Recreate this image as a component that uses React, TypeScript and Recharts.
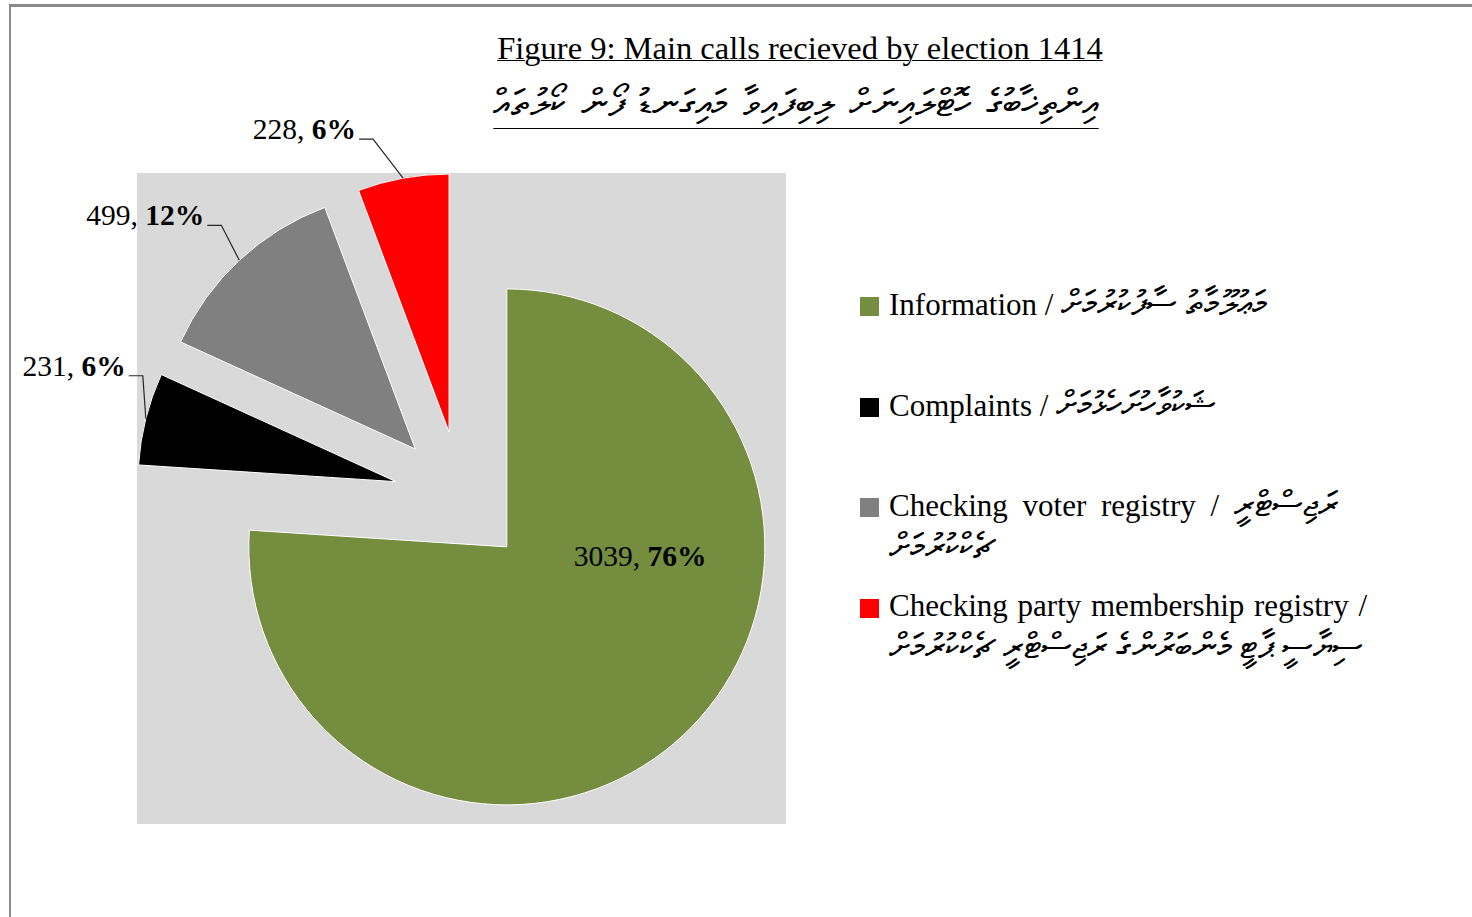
import { PieChart, Pie, Cell, Sector, Legend } from "recharts";

const categories = ["Information", "Complaints", "Checking voter registry", "Checking party membership registry"];
const categoriesDv = [
  "މަޢުލޫމާތު ސާފުކުރުމަށް",
  "ޝަކުވާހުށަހެޅުމަށް",
  "ރަޖިސްޓްރީ ޗެކްކުރުމަށް",
  "ސިޔާސީ ޕާޓީ މެންބަރުންގެ ރަޖިސްޓްރީ ޗެކްކުރުމަށް",
];
const calls = [3039, 231, 499, 228];
const colors = ["#748D3F", "#000000", "#808080", "#FF0000"];

const titleEn = "Figure 9: Main calls recieved by election 1414";
const titleDv = "އިންތިޚާބުގެ ހޮޓްލައިނަށް ލިބިފައިވާ މައިގަނޑު ފޯން ކޯލުތައް";

const serif = '"Liberation Serif", "Times New Roman", serif';
const RAD = Math.PI / 180;
const EXPLODE = 67;

// where each data label sits, relative to its (exploded) slice
const labelLayout = [
  { inside: true, dx: 67, dy: 19 },
  { inside: false, dx: -3, dy: -43 },
  { inside: false, dx: -18, dy: -35 },
  { inside: false, dx: -30, dy: -39 },
];
// word spacing of the legend rows (the source was justified text)
const legendWordSpacing = [0, 0, 7, 2];

const data = categories.map((name, i) => ({ name, dv: categoriesDv[i], value: calls[i] }));

function shift(cx: number, cy: number, midAngle: number, d: number) {
  return { x: cx + d * Math.cos(-midAngle * RAD), y: cy + d * Math.sin(-midAngle * RAD) };
}

function ExplodedSlice(props: any) {
  const c = shift(props.cx, props.cy, props.midAngle, EXPLODE);
  return <Sector {...props} cx={c.x} cy={c.y} />;
}

function SliceLabel(props: any) {
  const { cx, cy, midAngle, outerRadius, value, percent, index } = props;
  const apex = shift(cx, cy, midAngle, EXPLODE);
  const lay = labelLayout[index];
  const pct = Math.round(percent * 100);
  const txt = (
    <>
      <tspan>{value}, </tspan>
      <tspan fontWeight="bold">{pct}%</tspan>
    </>
  );
  if (lay.inside) {
    return (
      <text x={apex.x + lay.dx} y={apex.y + lay.dy} fontFamily={serif} fontSize={29.5} fill="#000">
        {txt}
      </text>
    );
  }
  const edge = shift(apex.x, apex.y, midAngle, outerRadius);
  const ex = edge.x + lay.dx;
  const ey = edge.y + lay.dy;
  return (
    <g>
      <polyline points={`${edge.x},${edge.y} ${ex},${ey} ${ex - 14},${ey}`} fill="none" stroke="#262626" strokeWidth={1.2} />
      <text x={ex - 17} y={ey} textAnchor="end" fontFamily={serif} fontSize={29.5} fill="#000">
        {txt}
      </text>
    </g>
  );
}

function LegendBox() {
  return (
    <div style={{ position: "relative", width: 520, height: 420 }}>
      {categories.map((c, i) => (
        <div key={c} style={{ position: "absolute", left: 0, top: i * 100.5, width: 520 }}>
          <div style={{ position: "absolute", left: 2, top: 14, width: 19, height: 19, background: colors[i] }} />
          <div
            style={{
              marginLeft: 31,
              width: 486,
              fontFamily: serif,
              fontSize: 31,
              lineHeight: "41px",
              color: "#000",
              textAlign: "left",
              wordSpacing: legendWordSpacing[i],
            }}
          >
            {c} / <span dir="rtl" style={{ fontSize: 35, lineHeight: "41px", wordSpacing: 0 }}>{categoriesDv[i]}</span>
          </div>
        </div>
      ))}
    </div>
  );
}

export default function App() {
  return (
    <div style={{ position: "absolute", left: 0, top: 0, width: 1472, height: 917, background: "#fff", overflow: "hidden" }}>
      <div style={{ position: "absolute", left: 9, top: 4, width: 1480, height: 940, borderTop: "3px solid #8a8a8a", borderLeft: "2px solid #8a8a8a" }} />
      <div style={{ position: "absolute", left: 137, top: 173, width: 649, height: 651, background: "#D9D9D9" }} />
      <div style={{ position: "absolute", left: 400, top: 28, width: 800, textAlign: "center", fontFamily: serif, fontSize: 32.5, lineHeight: "40px", color: "#000" }}>
        <span style={{ textDecoration: "underline", textDecorationThickness: 1 }}>{titleEn}</span>
      </div>
      <div style={{ position: "absolute", left: 396, top: 81, width: 800, textAlign: "center", fontFamily: serif, fontSize: 38, lineHeight: "44px", wordSpacing: 5, color: "#000" }}>
        <span dir="rtl" style={{ textDecoration: "underline", textDecorationThickness: 1, textUnderlineOffset: 12 }}>{titleDv}</span>
      </div>
      <div style={{ position: "absolute", left: 0, top: 0 }}>
        <PieChart width={1472} height={917} margin={{ top: 0, right: 0, bottom: 0, left: 0 }}>
          <Pie
            data={data}
            dataKey="value"
            nameKey="name"
            cx={461}
            cy={498}
            outerRadius={258}
            startAngle={90}
            endAngle={-270}
            stroke="#ffffff"
            strokeWidth={1}
            isAnimationActive={false}
            labelLine={false}
            label={SliceLabel}
            shape={ExplodedSlice}
          >
            {data.map((d, i) => (
              <Cell key={d.name} fill={colors[i]} />
            ))}
          </Pie>
          <Legend
            layout="vertical"
            align="right"
            verticalAlign="top"
            content={() => <LegendBox />}
            wrapperStyle={{ position: "absolute", left: 858, top: 283, width: 520 }}
          />
        </PieChart>
      </div>
    </div>
  );
}
